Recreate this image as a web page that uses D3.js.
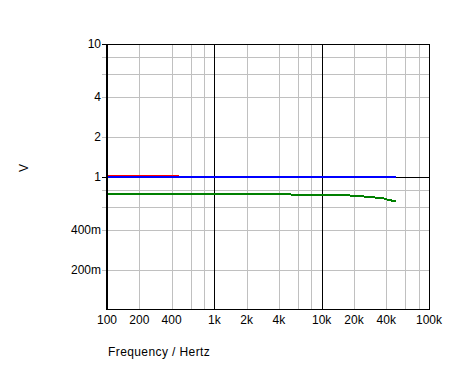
<!DOCTYPE html>
<html>
<head>
<meta charset="utf-8">
<script src="https://cdn.jsdelivr.net/npm/d3@7"></script>
<style>
  body { margin: 0; background: #fff; }
  svg text { font-family: "Liberation Sans", Arial, sans-serif; font-size: 12px; fill: #000; }
</style>
</head>
<body>
<div id="chart"></div>
<script>
// x ticks (Hz) and labels
const xTicks = [100, 200, 400, 1000, 2000, 4000, 10000, 20000, 40000, 100000];
const xTickLabels = ["100", "200", "400", "1k", "2k", "4k", "10k", "20k", "40k", "100k"];
// y ticks (V) and labels
const yTicks = [0.2, 0.4, 1, 2, 4, 10];
const yTickLabels = ["200m", "400m", "1", "2", "4", "10"];
const minorMult = [2, 4, 6, 8];

// series: [frequency, volts]
const redSeries = [[100, 1.026], [470, 1.026]];
const blueSeries = [[100, 1.0], [49000, 1.0]];
const greenSeries = [
  [100, 0.742], [1000, 0.742], [5000, 0.740], [6000, 0.731], [10000, 0.730],
  [18000, 0.727], [20000, 0.718], [25000, 0.713], [27000, 0.705], [31000, 0.702],
  [33000, 0.693], [38000, 0.689], [40000, 0.678], [44000, 0.670], [46000, 0.659], [49000, 0.657]
];

const width = 464, height = 387;
const svg = d3.select("#chart").append("svg")
  .attr("width", width)
  .attr("height", height);

const x = d3.scaleLog().domain([100, 100000]).range([107, 429]);
const y = d3.scaleLog().domain([0.1, 10]).range([310, 44]);
const px = v => Math.round(x(v)) + 0.5;
const py = v => Math.round(y(v)) + 0.5;

// minor grid
const xMinor = [], yMinor = [];
[100, 1000, 10000].forEach(d => minorMult.forEach(m => xMinor.push(d * m)));
[0.1, 1].forEach(d => minorMult.forEach(m => yMinor.push(d * m)));

const grid = svg.append("g").attr("class", "grid").attr("shape-rendering", "crispEdges");
grid.selectAll("line.xm")
  .data(xMinor)
  .join("line")
  .attr("x1", d => px(d)).attr("x2", d => px(d))
  .attr("y1", y(10)).attr("y2", y(0.1))
  .attr("stroke", "#c0c0c0");
grid.selectAll("line.ym")
  .data(yMinor)
  .join("line")
  .attr("x1", x(100) - 5).attr("x2", x(100000))
  .attr("y1", d => py(d)).attr("y2", d => py(d))
  .attr("stroke", "#c0c0c0");

// major grid (decades)
grid.selectAll("line.xM")
  .data([1000, 10000, 100000])
  .join("line")
  .attr("x1", d => px(d)).attr("x2", d => px(d))
  .attr("y1", y(10)).attr("y2", y(0.1))
  .attr("stroke", "#000");
grid.selectAll("line.yM")
  .data([1, 10])
  .join("line")
  .attr("x1", x(100) - 5).attr("x2", x(100000))
  .attr("y1", d => py(d)).attr("y2", d => py(d))
  .attr("stroke", "#000");
// bottom line
grid.append("line")
  .attr("x1", x(100)).attr("x2", x(100000))
  .attr("y1", py(0.1) - 1).attr("y2", py(0.1) - 1)
  .attr("stroke", "#000");

// series (red sits under blue, only its top edge shows)
const line = d3.line().x(d => x(d[0])).y(d => y(d[1]));
const plot = svg.append("g").attr("class", "series").attr("shape-rendering", "crispEdges");
plot.append("path").datum(redSeries)
  .attr("d", line).attr("fill", "none").attr("stroke", "#ff0000").attr("stroke-width", 1);
plot.append("path").datum(greenSeries)
  .attr("d", line).attr("fill", "none").attr("stroke", "#008000").attr("stroke-width", 2);
plot.append("path").datum(blueSeries)
  .attr("d", line).attr("fill", "none").attr("stroke", "#0000ff").attr("stroke-width", 2);

// left axis (thick)
svg.append("line")
  .attr("x1", x(100)).attr("x2", x(100))
  .attr("y1", y(10)).attr("y2", y(0.1))
  .attr("stroke", "#000").attr("stroke-width", 2)
  .attr("shape-rendering", "crispEdges");

// tick labels
svg.append("g").selectAll("text")
  .data(yTicks)
  .join("text")
  .attr("x", x(100) - 6)
  .attr("y", d => y(d))
  .attr("dy", "0.35em")
  .attr("text-anchor", "end")
  .text((d, i) => yTickLabels[i]);

svg.append("g").selectAll("text")
  .data(xTicks)
  .join("text")
  .attr("x", d => x(d))
  .attr("y", y(0.1) + 14)
  .attr("text-anchor", "middle")
  .text((d, i) => xTickLabels[i]);

// axis titles
svg.append("text")
  .attr("x", 108)
  .attr("y", 356)
  .attr("letter-spacing", "0.4px")
  .text("Frequency / Hertz");

svg.append("text")
  .attr("transform", "translate(28,168) rotate(-90)")
  .attr("text-anchor", "middle")
  .text("V");
</script>
</body>
</html>
